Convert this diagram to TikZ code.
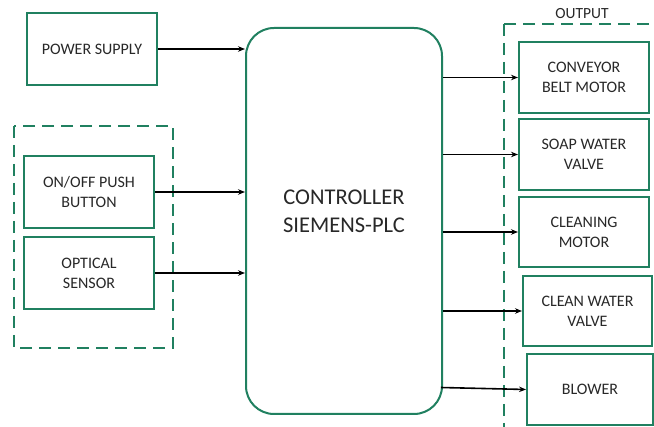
\documentclass[tikz,border=0pt]{standalone}
\usepackage{fontspec}
\setmainfont{Carlito}
\usepackage{tikz}
\usetikzlibrary{arrows.meta}
\definecolor{boxgreen}{RGB}{32,128,96}
\definecolor{textgray}{RGB}{40,40,40}
\tikzset{
    % green boxes
    greenbox/.style={
        draw=boxgreen,
        line width=2pt,
        align=center,
        inner sep=0pt,
        text=textgray,
        font=\fontsize{16}{20}\selectfont
    },
    groupline/.style={
        draw=boxgreen,
        line width=2pt,
        dash pattern=on 12pt off 7pt
    },
    blackarrow/.style={
        line width=1.6pt,
        black,
        -{Stealth[length=7pt, width=5.5pt]}
    }
}
\begin{document}
\begin{tikzpicture}[x=1pt,y=-1pt]
    \clip (0,0) rectangle (654,427);
    \fill[white] (0,0) rectangle (654,427);

    \draw[groupline] (14,126) rectangle (173,348);
    \draw[groupline] (504,24) rectangle (664,440);
    \node[text=textgray, font=\fontsize{15.5}{18}\selectfont] (outlabel) at (582,14) {OUTPUT};

    \node[greenbox, minimum width=130, minimum height=72] (power) at (92,49) {POWER SUPPLY};
    \node[greenbox, minimum width=130, minimum height=72] (onoff) at (89,192) {ON/OFF PUSH\\BUTTON};
    \node[greenbox, minimum width=130, minimum height=72] (optical) at (89,273) {OPTICAL\\SENSOR};

    \node[greenbox, rounded corners=28pt, minimum width=196, minimum height=386] (plc) at (344,221) {};
    \node[text=textgray, align=center, font=\fontsize{22.5}{28}\selectfont] (plctext) at ([yshift=10pt]plc.center) {CONTROLLER\\SIEMENS-PLC};

    \node[greenbox, minimum width=130, minimum height=71] (conveyor) at (584,77.5) {CONVEYOR\\BELT MOTOR};
    \node[greenbox, minimum width=130, minimum height=71] (soap) at (584,154.5) {SOAP WATER\\VALVE};
    \node[greenbox, minimum width=130, minimum height=70] (cleaning) at (584,232) {CLEANING\\MOTOR};
    \node[greenbox, minimum width=129, minimum height=70] (cleanwater) at (587.5,311) {CLEAN WATER\\VALVE};
    \node[greenbox, minimum width=126, minimum height=71] (blower) at (590,389.5) {BLOWER};

    \draw[blackarrow] (power.east) -- (power.east -| plc.west);
    \draw[blackarrow] (onoff.east) -- (onoff.east -| plc.west);
    \draw[blackarrow] (optical.east) -- (optical.east -| plc.west);

    \draw[blackarrow] (plc.east |- conveyor.west) -- (conveyor.west);
    \draw[blackarrow] (plc.east |- soap.west) -- (soap.west);
    \draw[blackarrow] (plc.east |- cleaning.west) -- (cleaning.west);
    \draw[blackarrow] (plc.east |- cleanwater.west) -- (cleanwater.west);
    \draw[blackarrow] ([xshift=-2pt,yshift=2pt]plc.east |- blower.west) -- (blower.west);
\end{tikzpicture}
\end{document}
